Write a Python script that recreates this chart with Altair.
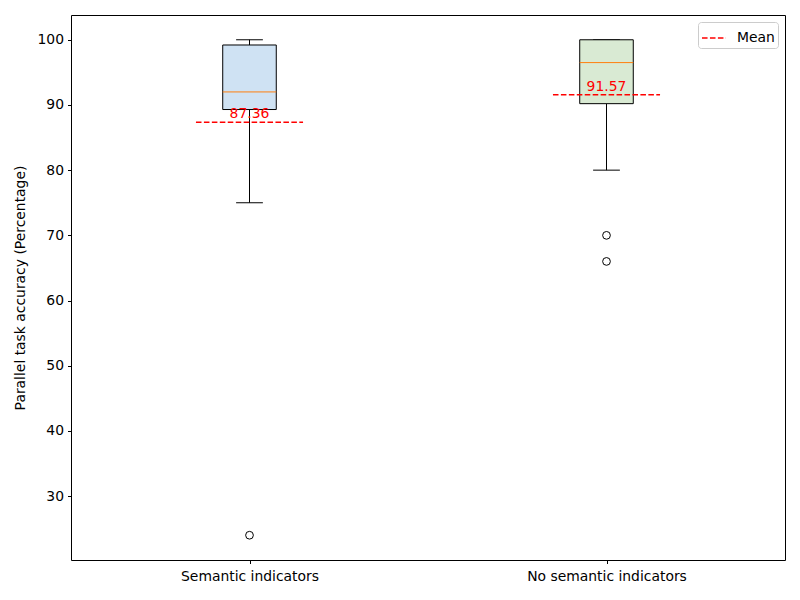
import altair as alt
import pandas as pd

categories = ["Semantic indicators", "No semantic indicators"]
q1 = [89.3, 90.2]
median = [92.0, 96.5]
q3 = [99.2, 100.0]
whisker_low = [75.0, 80.0]
whisker_high = [100.0, 100.0]
means = [87.36, 91.57]
outlier_group = ["Semantic indicators", "No semantic indicators", "No semantic indicators"]
outlier_values = [24.0, 70.0, 66.0]
box_colors = ["#cfe2f3", "#d9ead3"]

pos = {c: i + 1 for i, c in enumerate(categories)}
df = pd.DataFrame({
    "cat": categories,
    "pos": [pos[c] for c in categories],
    "q1": q1, "median": median, "q3": q3,
    "lo": whisker_low, "hi": whisker_high,
    "mean": means,
    "fill": box_colors,
})
df["bx0"] = df["pos"] - 0.075
df["bx1"] = df["pos"] + 0.075
df["cx0"] = df["pos"] - 0.0375
df["cx1"] = df["pos"] + 0.0375
df["mx0"] = df["pos"] - 0.15
df["mx1"] = df["pos"] + 0.15
df["mean_label"] = df["mean"].map(lambda v: f"{v:.2f}")
df["legend"] = "Mean"

out = pd.DataFrame({"cat": outlier_group, "val": outlier_values})
out["pos"] = out["cat"].map(pos)

label_expr = " : ".join(
    [f"datum.value == {i+1} ? '{c}'" for i, c in enumerate(categories)]
) + " : ''"

xscale = alt.Scale(domain=[0.5, 2.5], nice=False, zero=False)
yscale = alt.Scale(domain=[20.2, 103.8], nice=False, zero=False)

FONT = "DejaVu Sans"
FS = 13.9

xaxis = alt.Axis(values=[1, 2], labelExpr=label_expr, title=None, grid=False,
                 labelFontSize=FS, labelColor="black", labelFont=FONT, tickColor="black",
                 tickSize=3.5, labelPadding=6, domain=False)
yaxis = alt.Axis(values=[30, 40, 50, 60, 70, 80, 90, 100], title="Parallel task accuracy (Percentage)",
                 grid=False, labelFontSize=FS, labelColor="black", labelFont=FONT, tickColor="black",
                 tickSize=3.5, labelPadding=4, domain=False, titleFontSize=FS, titleFont=FONT,
                 titleFontWeight="normal", titleColor="black", titlePadding=9)

base = alt.Chart(df)

whisk_lo = base.mark_rule(color="black", strokeWidth=1).encode(
    x=alt.X("pos:Q", scale=xscale, axis=xaxis),
    y=alt.Y("lo:Q", scale=yscale, axis=yaxis), y2="q1:Q")
whisk_hi = base.mark_rule(color="black", strokeWidth=1).encode(
    x="pos:Q", y="q3:Q", y2="hi:Q")
cap_lo = base.mark_rule(color="black", strokeWidth=1).encode(
    x="cx0:Q", x2="cx1:Q", y="lo:Q")
cap_hi = base.mark_rule(color="black", strokeWidth=1).encode(
    x="cx0:Q", x2="cx1:Q", y="hi:Q")
boxes = base.mark_rect(stroke="black", strokeWidth=1).encode(
    x="bx0:Q", x2="bx1:Q", y="q1:Q", y2="q3:Q",
    fill=alt.Fill("fill:N", scale=None))
med = base.mark_rule(color="#ff7f0e", strokeWidth=1).encode(
    x="bx0:Q", x2="bx1:Q", y="median:Q")
mean_line = base.mark_rule(strokeWidth=1.5, strokeDash=[5.55, 2.4]).encode(
    x="mx0:Q", x2="mx1:Q", y="mean:Q",
    color=alt.Color("legend:N", scale=alt.Scale(range=["red"]),
                    legend=alt.Legend(title=None, orient="top-right", offset=7,
                                      symbolType="stroke", symbolDash=[5.55, 2.4],
                                      symbolStrokeWidth=1.5, symbolSize=576,
                                      labelFontSize=FS, labelColor="black", labelFont=FONT,
                                      labelOffset=10, rowPadding=0,
                                      strokeColor="#cccccc", fillColor="white",
                                      padding=3, cornerRadius=3)))
mean_text = base.mark_text(color="red", fontSize=FS, font=FONT, baseline="bottom", dy=-1).encode(
    x="pos:Q", y="mean:Q", text="mean_label:N")
outliers = alt.Chart(out).mark_point(shape="circle", filled=False, color="black",
                                     size=60, strokeWidth=1, opacity=1).encode(
    x="pos:Q", y="val:Q")

chart = alt.layer(whisk_lo, whisk_hi, cap_lo, cap_hi, boxes, med, mean_line, mean_text, outliers).properties(
    width=714, height=545,
    autosize=alt.AutoSizeParams(type="none"),
    padding={"left": 63, "top": 7, "right": 7, "bottom": 32},
).configure(font=FONT).configure_view(stroke="black", strokeWidth=1)

chart.save("out.html", embed_options={"renderer": "svg", "actions": False})
